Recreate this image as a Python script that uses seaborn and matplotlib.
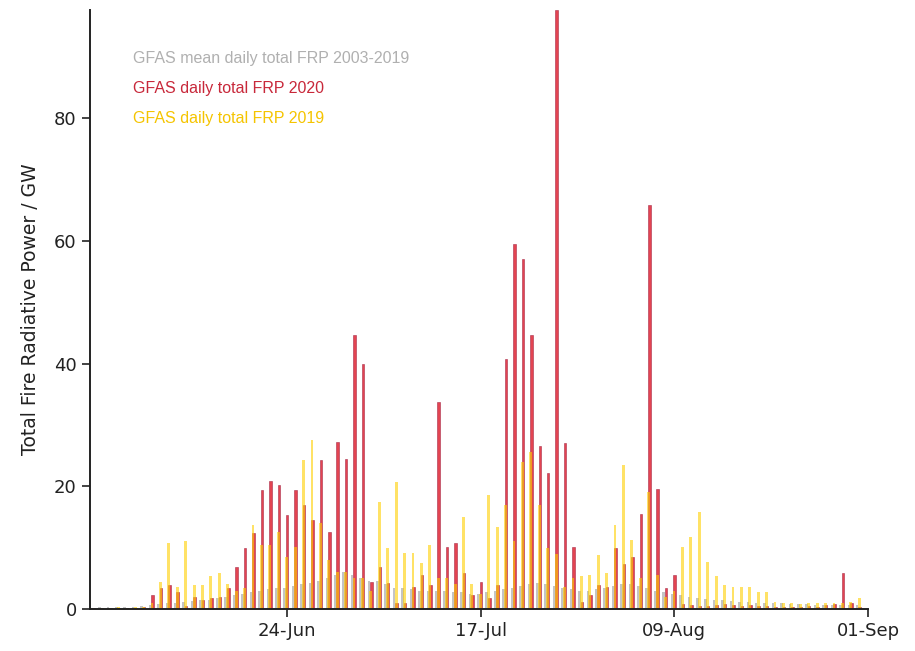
import numpy as np
import pandas as pd
import matplotlib
matplotlib.use("Agg")
import matplotlib.pyplot as plt
import seaborn as sns

# ---------------- data ----------------
start_date = "2020-06-01"
n_days = 92
tick_dates = ["2020-06-24", "2020-07-17", "2020-08-09", "2020-09-01"]

frp_2020 = [0.1, 0.1, 0.2, 0.1, 0.2, 0.2, 0.3, 2.3, 3.4, 3.9,
            2.8, 0.5, 2.0, 1.5, 1.8, 2.0, 3.4, 6.9, 10.0, 12.4,
            19.4, 20.8, 20.2, 15.3, 19.4, 16.9, 14.5, 24.3, 12.6, 27.2,
            24.4, 44.6, 40.0, 4.4, 6.9, 4.2, 1.0, 1.0, 3.6, 5.5,
            3.9, 33.8, 10.1, 10.8, 5.8, 2.3, 4.4, 1.8, 3.9, 40.8,
            59.5, 57.0, 44.6, 26.6, 22.2, 97.6, 27.0, 10.1, 1.2, 2.3,
            3.9, 3.6, 9.9, 7.4, 8.5, 15.4, 65.9, 19.5, 3.4, 5.5,
            0.8, 0.6, 0.5, 0.5, 0.6, 0.8, 0.7, 0.5, 0.6, 0.5,
            0.5, 0.4, 0.4, 0.3, 0.3, 0.5, 0.4, 0.6, 0.8, 5.9,
            1.0, 0.4]

frp_2019 = [0.2, 0.2, 0.2, 0.3, 0.2, 0.3, 0.3, 1.0, 4.4, 10.7,
            3.6, 11.0, 3.9, 3.9, 5.3, 5.8, 4.0, 3.0, 3.4, 13.7,
            10.4, 10.4, 12.6, 8.5, 10.1, 24.3, 27.6, 14.0, 8.0, 6.0,
            6.0, 5.0, 5.0, 3.0, 17.5, 9.9, 20.7, 9.1, 9.1, 7.5,
            10.4, 5.0, 5.0, 4.0, 15.0, 4.0, 2.5, 18.6, 13.4, 17.0,
            11.0, 24.0, 25.6, 17.0, 10.0, 9.0, 3.6, 5.0, 5.3, 5.5,
            8.8, 5.8, 13.7, 23.4, 11.2, 5.0, 19.1, 5.5, 2.0, 3.0,
            10.1, 11.8, 15.8, 7.7, 5.3, 3.9, 3.6, 3.6, 3.6, 2.8,
            2.8, 1.2, 1.0, 1.0, 0.8, 1.0, 1.0, 1.0, 1.0, 1.0,
            1.2, 1.8]

frp_mean = [0.2, 0.3, 0.3, 0.4, 0.3, 0.4, 0.5, 0.6, 0.8, 1.0,
            1.0, 1.2, 1.3, 1.5, 1.5, 1.8, 2.0, 2.2, 2.5, 2.8,
            3.0, 3.2, 3.5, 3.5, 3.8, 4.0, 4.2, 4.5, 5.0, 5.5,
            6.0, 5.5, 5.0, 4.5, 4.5, 4.0, 3.5, 3.5, 3.2, 3.0,
            3.0, 3.0, 3.0, 2.8, 2.8, 2.5, 2.5, 2.8, 3.0, 3.2,
            3.5, 3.8, 4.0, 4.2, 4.0, 3.8, 3.5, 3.2, 3.0, 3.0,
            3.2, 3.5, 3.8, 4.0, 4.0, 3.8, 3.5, 3.0, 2.8, 2.5,
            2.2, 2.0, 1.8, 1.6, 1.5, 1.4, 1.3, 1.2, 1.1, 1.0,
            1.0, 0.9, 0.9, 0.8, 0.8, 0.8, 0.7, 0.7, 0.7, 0.7,
            0.6, 0.6]

legend_labels = ["GFAS mean daily total FRP 2003-2019",
                 "GFAS daily total FRP 2020",
                 "GFAS daily total FRP 2019"]
ylabel = "Total Fire Radiative Power / GW"

# ---------------- figure ----------------
sns.set_theme(style="ticks")
plt.rcParams["font.family"] = ["DejaVu Sans"]

W, H = 915, 651
fig = plt.figure(figsize=(W / 100, H / 100), dpi=100)
ax = fig.add_axes([90 / W, 1 - 609 / H, (868 - 90) / W, (609 - 10) / H])

dates = pd.date_range(start_date, periods=n_days, freq="D")
day = (dates - dates[0]).days.values.astype(float)

df = pd.DataFrame({"day": day, "mean": frp_mean, "y2019": frp_2019, "y2020": frp_2020})

c_gray = "#c4c4c4"
c_yellow = "#ffd000"
c_red = "#e0303e"

sns.barplot(x=df["day"] - 0.28, y=df["mean"], native_scale=True, width=0.30,
            color=c_gray, saturation=1, errorbar=None, linewidth=0, ax=ax)
sns.barplot(x=df["day"] + 0.02, y=df["y2020"], native_scale=True, width=0.30,
            color=c_red, saturation=1, errorbar=None, alpha=0.9,
            edgecolor="#a0203f", linewidth=0.4, ax=ax)
sns.barplot(x=df["day"] - 0.04, y=df["y2019"], native_scale=True, width=0.34,
            color=c_yellow, saturation=1, errorbar=None, alpha=0.6,
            linewidth=0, ax=ax)

# axes
ax.set_xlim(-0.4, float(n_days))
ax.set_ylim(0, max(frp_2020))
tick_pos = [(pd.Timestamp(t) - dates[0]).days for t in tick_dates]
ax.set_xticks(tick_pos)
ax.set_xticklabels([pd.Timestamp(t).strftime("%d-%b") for t in tick_dates])
ax.set_yticks([0, 20, 40, 60, 80])
ax.set_xlabel("")
ax.set_ylabel(ylabel, fontsize=13.5, color="#222222", labelpad=10)
ax.tick_params(axis="both", labelsize=13, colors="#222222", length=6, width=1.2)
for s in ["top", "right"]:
    ax.spines[s].set_visible(False)
for s in ["left", "bottom"]:
    ax.spines[s].set_linewidth(1.4)
    ax.spines[s].set_color("#222222")
ax.grid(False)

# legend as coloured text
leg_colors = ["#b0b0b0", "#c8283a", "#f5c400"]
for i, (lab, col) in enumerate(zip(legend_labels, leg_colors)):
    fig.text(133 / W, 1 - (59 + 29.5 * i) / H, lab, color=col, fontsize=11.5,
             family=["Liberation Sans", "DejaVu Sans"], va="center", ha="left")

fig.savefig("out.png", dpi=100)
